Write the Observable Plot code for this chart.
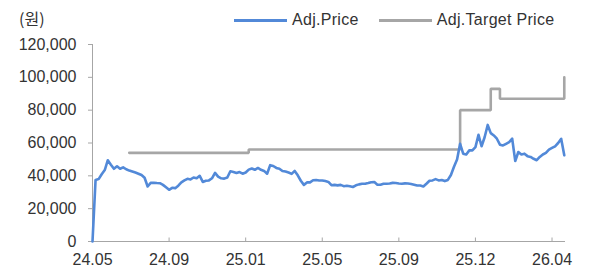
<!DOCTYPE html>
<html><head><meta charset="utf-8">
<script src="https://cdn.jsdelivr.net/npm/d3@7"></script>
<script src="https://cdn.jsdelivr.net/npm/@observablehq/plot@0.6"></script>
<style>
body{margin:0;background:#fff;}
#wrap{position:relative;width:589px;height:274px;font-family:"Liberation Sans",Arial,sans-serif;color:#333;}
#unit{position:absolute;left:19px;top:7px;font-size:16px;font-family:"Noto Sans CJK KR",sans-serif;line-height:22px;color:#333;}
#legend{position:absolute;left:234px;top:10px;display:flex;align-items:center;font-size:16px;letter-spacing:0.3px;line-height:20px;}
#legend .sw{display:inline-block;width:53px;height:3px;margin-right:5px;}
#legend .it{display:flex;align-items:center;margin-right:20px;}
svg{display:block;}
</style></head>
<body><div id="wrap"></div>
<script>
const unitLabel = "(원)";
const seriesNames = ["Adj.Price", "Adj.Target Price"];
const seriesColors = ["#5289d8", "#a6a6a6"];
const xTickIdx = [0, 25, 50, 75, 100, 125, 150];
const xTickLabels = ["24.05", "24.09", "25.01", "25.05", "25.09", "25.12", "26.04"];
const yTicks = [0, 20000, 40000, 60000, 80000, 100000, 120000];
const price = [0,37500,38000,41000,43500,49500,46800,44300,45800,44300,
45200,44000,43200,42600,42000,41300,40500,38800,33500,35700,
35800,35600,35500,34500,33000,31500,32700,32500,34000,36000,
37200,38200,37800,39000,38500,40000,36300,37000,37200,38500,
41800,39500,38500,38300,39000,42800,42300,41700,42300,41300,
42000,43800,44500,43700,44800,43700,43000,41300,46500,46000,
44800,44300,42900,42600,42000,41200,43000,40300,37000,34500,
36000,36000,37300,37500,37200,37200,36800,36300,34300,34500,
34200,34500,33700,34000,33600,33200,34200,34800,35200,35200,
35600,36100,36200,34600,34600,35200,35200,35300,35700,35600,
35300,35200,35400,35300,35000,34600,34100,34100,33500,35200,
37000,37200,38000,37200,37500,36800,37500,40500,45500,50000,
59500,53500,53000,55500,55500,57500,65000,58000,63500,71000,
66000,64600,62600,59000,58500,59500,60500,62600,49000,54500,
53000,53500,52000,51500,50400,49500,51500,53000,54000,56000,
57000,58000,60000,62500,52500];
const targetIdx = [12, 51, 120, 130, 133, 154];
const targetVal = [54000, 56000, 80000, 93000, 87000, 100000];

const priceData = price.map((v, i) => ({i, v}));
const targetData = targetIdx.map((i, k) => ({i, v: targetVal[k]}));
const axisColor = "#a6a6a6";
const tickUp = {draw(ctx) { ctx.moveTo(0, 0); ctx.lineTo(0, -4); }};
const fmt = d3.format(",");

const chart = Plot.plot({
  width: 589, height: 274,
  marginLeft: 92, marginRight: 24, marginTop: 44, marginBottom: 33,
  style: {fontFamily: "Liberation Sans, Arial, sans-serif", background: "#fff"},
  x: {domain: [0, 154.4]},
  y: {domain: [0, 120000]},
  marks: [
    Plot.axisY(yTicks, {label: null, tickSize: 4, tickPadding: 12, stroke: axisColor, fill: "#333",
      fontSize: 16, letterSpacing: 1.2, tickFormat: d => fmt(d)}),
    Plot.axisX(xTickIdx, {label: null, tickSize: 0, tickPadding: 12, fill: "#333", fontSize: 16, letterSpacing: 1.2,
      tickFormat: d => xTickLabels[xTickIdx.indexOf(d)]}),
    Plot.ruleX([0], {stroke: axisColor, strokeWidth: 1}),
    Plot.ruleY([0], {stroke: axisColor, strokeWidth: 1}),
    Plot.dot(xTickIdx, {x: d => d, y: () => 0, symbol: tickUp, stroke: axisColor, fill: "none", strokeWidth: 1}),
    Plot.line(targetData, {x: "i", y: "v", curve: "step-after", stroke: seriesColors[1], strokeWidth: 2.6, strokeLinejoin: "miter"}),
    Plot.line(priceData, {x: "i", y: "v", stroke: seriesColors[0], strokeWidth: 2.6, strokeLinejoin: "round"})
  ]
});
const wrap = document.getElementById("wrap");
wrap.appendChild(chart);
const u = document.createElement("div"); u.id = "unit"; u.textContent = unitLabel; wrap.appendChild(u);
const lg = document.createElement("div"); lg.id = "legend";
seriesNames.forEach((n, k) => {
  const it = document.createElement("span"); it.className = "it";
  const sw = document.createElement("span"); sw.className = "sw"; sw.style.background = seriesColors[k];
  const tx = document.createElement("span"); tx.textContent = n;
  it.appendChild(sw); it.appendChild(tx); lg.appendChild(it);
});
wrap.appendChild(lg);
</script></body></html>
